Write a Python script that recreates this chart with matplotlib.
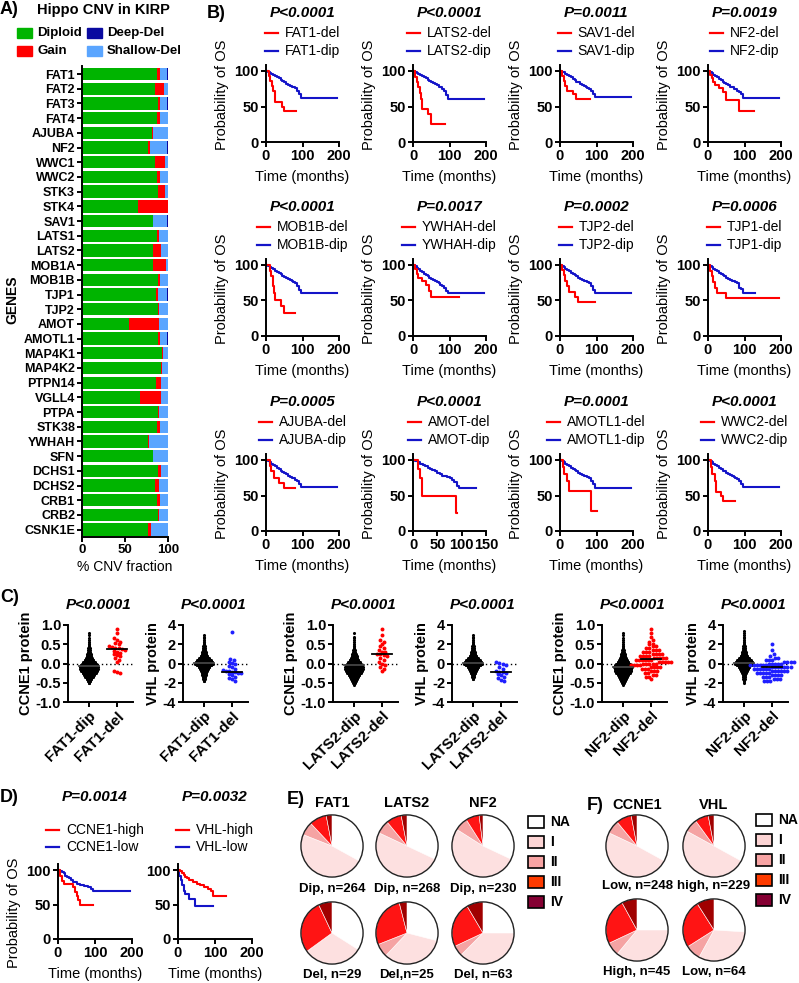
import matplotlib
matplotlib.use('Agg')
import matplotlib.pyplot as plt
from matplotlib.lines import Line2D
from matplotlib.patches import Rectangle, Circle
import numpy as np

plt.rcParams['font.family'] = ['Liberation Sans', 'DejaVu Sans']
plt.rcParams['axes.unicode_minus'] = False
plt.rcParams['axes.linewidth'] = 1.4

RED = '#ff0000'
BLUE = '#1414c8'

# ---------------- A) CNV fractions (%) ----------------
genes = ['FAT1', 'FAT2', 'FAT3', 'FAT4', 'AJUBA', 'NF2', 'WWC1', 'WWC2', 'STK3', 'STK4',
         'SAV1', 'LATS1', 'LATS2', 'MOB1A', 'MOB1B', 'TJP1', 'TJP2', 'AMOT', 'AMOTL1',
         'MAP4K1', 'MAP4K2', 'PTPN14', 'VGLL4', 'PTPA', 'STK38', 'YWHAH', 'SFN', 'DCHS1',
         'DCHS2', 'CRB1', 'CRB2', 'CSNK1E']
diploid = [87, 85, 88.5, 87, 81, 77, 85, 87.5, 88.5, 65.5, 82, 87.5, 82, 82.5, 88.5, 86.5,
           88.5, 55, 88.5, 92.5, 91.5, 86.5, 67, 88, 87, 77, 82, 88, 85, 87, 88, 77]
gain = [3.5, 10, 2.5, 3.5, 1, 1.5, 12, 3, 7.5, 34.5, 0.5, 2, 9.5, 15.5, 2.5, 2,
        1, 34.5, 2.5, 1.5, 2, 5, 25, 1, 4, 1, 0, 4, 4, 4, 1, 3]
shallow_del = [8.5, 5, 7.5, 9.5, 18, 20.5, 3, 9, 4, 0, 16.5, 10.5, 8.5, 1.5, 9, 10.5,
               10.5, 10.5, 8, 6, 6.5, 8.5, 8, 11, 9, 22, 18, 8, 11, 9, 11, 20]
deep_del = [1, 0, 1.5, 0, 0, 1, 0, 0.5, 0, 0, 1, 0, 0, 0.5, 0, 1,
            0, 0, 1, 0, 0, 0, 0, 0, 0, 0, 0, 0, 0, 0, 0, 0]

# ---------------- B) / D) Kaplan-Meier curves (months, % survival) ----------------
dip_t = [0, 5, 10, 15, 20, 25, 30, 35, 40, 45, 50, 55, 60, 65, 70, 75, 80, 85, 90, 95, 195]
dip_t130 = [0, 5, 10, 15, 20, 25, 30, 35, 40, 45, 50, 55, 60, 65, 70, 75, 80, 85, 90, 95, 130]

fat1_del_t = [0, 8, 12, 16, 20, 24, 45, 50, 82]
fat1_del_s = [100, 93, 86, 79, 72, 57, 50, 43, 43]
fat1_dip_s = [100, 99, 97, 96, 94, 93, 91, 90, 88, 86, 84, 82, 80, 79, 78, 77, 76, 72, 68, 62, 62]
lats2_del_t = [0, 5, 10, 13, 18, 22, 25, 40, 50, 88]
lats2_del_s = [100, 92, 85, 77, 69, 61, 47, 40, 25, 25]
lats2_dip_s = [100, 99, 97, 96, 95, 93, 92, 90, 88, 86, 85, 83, 81, 80, 78, 77, 75, 72, 66, 60, 60]
sav1_del_t = [0, 5, 10, 15, 20, 35, 45, 82]
sav1_del_s = [100, 93, 86, 79, 72, 68, 61, 61]
sav1_dip_s = [100, 99, 98, 96, 95, 93, 91, 89, 87, 85, 84, 82, 80, 79, 77, 76, 74, 72, 68, 63, 63]
nf2_del_t = [0, 5, 10, 15, 20, 30, 40, 50, 85, 125]
nf2_del_s = [100, 95, 90, 84, 80, 76, 70, 59, 44, 44]
nf2_dip_s = [100, 99, 97, 95, 93, 91, 89, 87, 85, 83, 81, 80, 78, 77, 75, 74, 72, 70, 67, 62, 62]

mob1b_del_t = [0, 12, 15, 18, 21, 24, 40, 50, 80]
mob1b_del_s = [100, 92, 85, 70, 60, 50, 42, 33, 33]
mob1b_dip_s = [100, 99, 97, 96, 94, 92, 90, 89, 87, 85, 83, 81, 80, 79, 77, 76, 75, 70, 65, 61, 61]
ywhah_del_t = [0, 5, 10, 15, 25, 35, 45, 50, 125]
ywhah_del_s = [100, 95, 87, 82, 77, 72, 63, 55, 55]
ywhah_dip_s = [100, 99, 96, 94, 92, 90, 88, 86, 84, 82, 80, 79, 78, 76, 74, 72, 70, 68, 64, 61, 61]
tjp2_del_t = [0, 6, 10, 15, 20, 25, 40, 50, 95]
tjp2_del_s = [100, 93, 86, 78, 70, 62, 55, 48, 48]
tjp2_dip_s = [100, 99, 97, 95, 93, 91, 89, 88, 86, 84, 82, 80, 79, 78, 77, 76, 75, 70, 65, 60, 60]
tjp1_del_t = [0, 5, 10, 15, 20, 25, 50, 195]
tjp1_del_s = [100, 92, 84, 76, 68, 61, 54, 54]
tjp1_dip_s = [100, 99, 97, 95, 93, 91, 89, 88, 86, 84, 82, 80, 79, 78, 77, 76, 75, 68, 66, 60, 60]

ajuba_del_t = [0, 10, 15, 22, 35, 50, 80]
ajuba_del_s = [100, 92, 85, 75, 68, 60, 60]
ajuba_dip_s = [100, 99, 97, 95, 93, 91, 89, 87, 85, 83, 81, 80, 78, 76, 75, 74, 72, 70, 66, 62, 62]
amot_del_t = [0, 10, 14, 18, 88, 90]
amot_del_s = [100, 88, 75, 50, 25, 25]
amot_dip_s = [100, 99, 97, 95, 93, 91, 89, 88, 86, 84, 82, 80, 78, 77, 76, 75, 72, 69, 64, 60, 60]
amotl1_del_t = [0, 8, 12, 18, 25, 85, 100]
amotl1_del_s = [100, 90, 80, 70, 57, 28, 28]
amotl1_dip_s = [100, 99, 97, 95, 93, 91, 89, 88, 86, 84, 82, 80, 79, 78, 77, 76, 74, 70, 66, 61, 61]
wwc2_del_t = [0, 8, 12, 18, 22, 35, 42, 75]
wwc2_del_s = [100, 90, 80, 70, 55, 50, 42, 42]
wwc2_dip_s = [100, 99, 97, 95, 93, 91, 89, 87, 85, 84, 82, 80, 79, 78, 76, 75, 73, 70, 66, 62, 62]

ccne1_high_t = [0, 5, 10, 15, 40, 45, 50, 55, 60, 95]
ccne1_high_s = [100, 92, 84, 80, 76, 68, 62, 57, 49, 49]
ccne1_low_t = [0, 5, 10, 15, 20, 25, 30, 35, 40, 50, 60, 70, 80, 90, 95, 195]
ccne1_low_s = [100, 99, 97, 95, 92, 90, 88, 85, 82, 80, 78, 77, 75, 72, 69, 69]
vhl_high_t = [0, 5, 10, 15, 20, 25, 30, 40, 50, 60, 70, 80, 90, 95, 130]
vhl_high_s = [100, 98, 96, 93, 90, 88, 86, 83, 80, 78, 75, 73, 70, 62, 62]
vhl_low_t = [0, 4, 8, 12, 16, 20, 30, 45, 95]
vhl_low_s = [100, 92, 85, 78, 70, 65, 58, 48, 48]

km_genes = ['FAT1', 'LATS2', 'SAV1', 'NF2', 'MOB1B', 'YWHAH', 'TJP2', 'TJP1',
            'AJUBA', 'AMOT', 'AMOTL1', 'WWC2']
km_pvals = ['P<0.0001', 'P<0.0001', 'P=0.0011', 'P=0.0019', 'P<0.0001', 'P=0.0017',
            'P=0.0002', 'P=0.0006', 'P=0.0005', 'P<0.0001', 'P=0.0001', 'P<0.0001']

# ---------------- C) protein levels ----------------
ccne1_bins = [-0.55, -0.5, -0.45, -0.4, -0.35, -0.3, -0.25, -0.2, -0.15, -0.1, -0.05, 0.0, 0.05, 0.1,
              0.15, 0.2, 0.25, 0.3, 0.35, 0.4, 0.45, 0.5, 0.55, 0.6, 0.65, 0.7, 0.75, 0.8]
vhl_bins = [-2.0, -1.8, -1.6, -1.4, -1.2, -1.0, -0.8, -0.6, -0.4, -0.2, 0.0, 0.2, 0.4, 0.6,
            0.8, 1.0, 1.2, 1.4, 1.6, 1.8, 2.0, 2.2, 2.4, 2.6, 2.8, 3.0, 3.2, 3.4]
fat1_dip_ccne1_n = [0, 2, 5, 8, 12, 16, 20, 23, 26, 27, 25, 22, 18, 14, 10, 8, 6, 4, 3, 3, 2, 2, 1, 1, 1, 0, 1, 1]
lats2_dip_ccne1_n = [1, 3, 6, 9, 12, 16, 20, 23, 25, 26, 24, 21, 17, 13, 10, 8, 6, 4, 3, 2, 2, 1, 1, 1, 1, 1, 0, 1]
nf2_dip_ccne1_n = [1, 3, 5, 8, 11, 14, 18, 21, 23, 24, 22, 19, 15, 12, 9, 7, 5, 4, 3, 2, 2, 1, 1, 1, 1, 0, 1, 1]
nf2_del_ccne1_bins = [-0.4, -0.35, -0.3, -0.25, -0.2, -0.15, -0.1, -0.05, 0.0, 0.05, 0.1, 0.15,
                      0.2, 0.25, 0.3, 0.35, 0.4, 0.45, 0.5, 0.55, 0.6, 0.7, 0.8, 0.9]
nf2_del_ccne1_n = [1, 2, 2, 2, 3, 3, 4, 4, 5, 5, 6, 5, 4, 4, 3, 3, 2, 2, 2, 1, 1, 1, 1, 1]
fat1_dip_vhl_n = [0, 2, 3, 5, 7, 9, 12, 16, 22, 30, 36, 34, 28, 20, 14, 10, 7, 5, 4, 3, 2, 2, 1, 1, 1, 1, 0, 0]
lats2_dip_vhl_n = [0, 0, 2, 4, 6, 9, 12, 16, 22, 30, 36, 34, 28, 20, 14, 10, 7, 5, 4, 3, 2, 2, 1, 1, 1, 1, 0, 0]
nf2_dip_vhl_n = [1, 2, 3, 4, 6, 8, 11, 15, 20, 27, 33, 31, 25, 18, 13, 9, 7, 5, 4, 3, 2, 2, 1, 1, 1, 1, 1, 1]
nf2_del_vhl_bins = [-1.8, -1.6, -1.4, -1.2, -1.0, -0.8, -0.6, -0.4, -0.2, 0.0, 0.2, 0.4, 0.6, 0.8, 1.0, 1.4, 2.0]
nf2_del_vhl_n = [3, 3, 3, 4, 5, 6, 6, 7, 6, 5, 4, 3, 2, 1, 1, 1, 1]
fat1_del_ccne1 = [0.9, 0.8, 0.65, 0.62, 0.55, 0.52, 0.5, 0.45, 0.44, 0.4, 0.4, 0.38, 0.36,
                  0.33, 0.31, 0.28, 0.25, 0.23, 0.2, 0.15, 0.1, 0.05, -0.2, -0.22, -0.25]
fat1_del_vhl = [3.3, 0.5, 0.4, 0.2, 0.1, -0.1, -0.3, -0.4, -0.6, -0.7, -0.8, -0.8, -0.9,
                -0.9, -1.0, -1.0, -1.1, -1.2, -1.4, -1.5, -1.6, -1.8]
lats2_del_ccne1 = [0.9, 0.75, 0.6, 0.55, 0.5, 0.45, 0.4, 0.35, 0.3, 0.3, 0.25, 0.25, 0.22,
                   0.2, 0.15, 0.1, 0.05, 0.0, -0.05, -0.1, -0.15, -0.2]
lats2_del_vhl = [0.2, 0.1, 0.0, -0.2, -0.4, -0.6, -0.8, -0.9, -0.9, -1.0, -1.1, -1.2, -1.4,
                 -1.5, -1.7, -1.8]
medians = [(-0.07, 0.37), (0.1, -0.85), (-0.05, 0.25), (0.1, -0.9), (-0.08, 0.12), (0.1, -0.4)]

# ---------------- E/F) stage distribution (%) : NA, I, II, III, IV ----------------
stages = ['NA', 'I', 'II', 'III', 'IV']
pie_fat1_dip = [33, 48, 7, 9, 3]
pie_fat1_del = [34, 31, 0, 28, 7]
pie_lats2_dip = [32, 50, 7, 8, 3]
pie_lats2_del = [29, 33, 7, 27, 4]
pie_nf2_dip = [32, 52, 7, 7, 2]
pie_nf2_del = [25, 37.5, 5.5, 23.5, 8.5]
pie_ccne1_low = [33, 49, 7, 8, 3]
pie_ccne1_high = [25, 36, 7, 24, 8]
pie_vhl_high = [33, 50, 7, 7, 3]
pie_vhl_low = [26, 32, 8, 25, 9]

W, H = 799, 983
fig = plt.figure(figsize=(W / 100, H / 100), dpi=100)
renderer = fig.canvas.get_renderer()


def add_ax(x, y, w, h):
    return fig.add_axes([x / W, 1 - (y + h) / H, w / W, h / H])


def ftext(x, y, s, **kw):
    kw.setdefault('va', 'center')
    return fig.text(x / W, 1 - y / H, s, **kw)


def fline(x1, x2, y, color, lw=1.6):
    fig.add_artist(Line2D([x1 / W, x2 / W], [1 - y / H] * 2, color=color, lw=lw))


def bold_ticks(ax, size):
    for lbl in ax.get_xticklabels() + ax.get_yticklabels():
        lbl.set_fontweight('bold')
        lbl.set_fontsize(size)


def style(ax):
    ax.spines['top'].set_visible(False)
    ax.spines['right'].set_visible(False)
    ax.tick_params(width=1.4, length=3.5, pad=1.5)


# ---- panel A ----
ftext(0, 10, 'A)', fontsize=13, fontweight='bold')
ftext(37, 10, 'Hippo CNV in KIRP', fontsize=10.5, fontweight='bold')
legA = [(17, 33, 'Diploid', '#00b400'), (87, 33, 'Deep-Del', '#0a0aa0'),
        (17, 51, 'Gain', '#ff0000'), (87, 51, 'Shallow-Del', '#5aa5ff')]
for x, y, lab, c in legA:
    fig.add_artist(Rectangle((x / W, 1 - (y + 5) / H), 15 / W, 10 / H, color=c))
    ftext(x + 20, y, lab, fontsize=9.5, fontweight='bold')

axA = add_ax(82, 66, 86, 471)
yy = np.arange(len(genes))
left = np.zeros(len(genes))
for vals, c in [(diploid, '#00b400'), (gain, '#ff0000'), (shallow_del, '#5aa5ff'),
                (deep_del, '#0a0aa0')]:
    axA.barh(yy, vals, left=left, height=0.84, color=c, lw=0)
    left = left + np.array(vals)
axA.set_ylim(len(genes) - 0.5, -0.55)
axA.set_xlim(0, 100)
axA.set_yticks(yy)
axA.set_yticklabels(genes)
axA.set_xticks([0, 50, 100])
style(axA)
bold_ticks(axA, 9.5)
for lbl in axA.get_yticklabels():
    lbl.set_fontsize(9)
axA.set_xlabel('% CNV fraction', fontsize=10, labelpad=3)
ftext(12, 300, 'GENES', fontsize=10, fontweight='bold', rotation=90, ha='center')


# ---- KM helper ----
def km(x0, ybot, del_c, dip_c, names, pval, xmax=200, xticks=(0, 100, 200),
       p_dy=129, leg_dy=(109, 91), ylab=True, ylab_dy=47, w=73, ppu=0.71):
    h = 108 * ppu
    ax = add_ax(x0, ybot - h, w, h)
    ax.step(dip_c[0], dip_c[1], where='post', color=BLUE, lw=1.5)
    ax.step(del_c[0], del_c[1], where='post', color=RED, lw=1.5)
    ax.set_xlim(0, xmax)
    ax.set_ylim(0, 108)
    ax.set_xticks(xticks)
    ax.set_yticks([0, 50, 100])
    style(ax)
    bold_ticks(ax, 10.5)
    ftext(x0 + w / 2, ybot + 35, 'Time (months)', fontsize=10.5, ha='center')
    if ylab:
        ftext(x0 - 44, ybot - ylab_dy, 'Probability of OS', fontsize=10.5,
              rotation=90, ha='center')
    ftext(x0 + w / 2, ybot - p_dy, pval, fontsize=11, fontweight='bold',
          style='italic', ha='center')
    ts = [ftext(0, ybot - d, n, fontsize=10, ha='left') for n, d in zip(names, leg_dy)]
    tw = max(t.get_window_extent(renderer).width for t in ts)
    start = x0 + w / 2 - (20 + tw) / 2
    for t, d, c in zip(ts, leg_dy, [RED, BLUE]):
        t.set_x((start + 20) / W)
        fline(start, start + 13, ybot - d, c)
    return ax


# ---- panel B ----
ftext(207, 13, 'B)', fontsize=13, fontweight='bold')
km_curves = [
    ((fat1_del_t, fat1_del_s), (dip_t, fat1_dip_s)),
    ((lats2_del_t, lats2_del_s), (dip_t, lats2_dip_s)),
    ((sav1_del_t, sav1_del_s), (dip_t, sav1_dip_s)),
    ((nf2_del_t, nf2_del_s), (dip_t, nf2_dip_s)),
    ((mob1b_del_t, mob1b_del_s), (dip_t, mob1b_dip_s)),
    ((ywhah_del_t, ywhah_del_s), (dip_t, ywhah_dip_s)),
    ((tjp2_del_t, tjp2_del_s), (dip_t, tjp2_dip_s)),
    ((tjp1_del_t, tjp1_del_s), (dip_t130, tjp1_dip_s)),
    ((ajuba_del_t, ajuba_del_s), (dip_t, ajuba_dip_s)),
    ((amot_del_t, amot_del_s), (dip_t130, amot_dip_s)),
    ((amotl1_del_t, amotl1_del_s), (dip_t, amotl1_dip_s)),
    ((wwc2_del_t, wwc2_del_s), (dip_t, wwc2_dip_s)),
]
col_x = [266, 413, 560, 708]
row_y = [142, 336, 531]
for i, g in enumerate(km_genes):
    r, c = divmod(i, 4)
    kw = {}
    if g == 'AMOT':
        kw = dict(xmax=150, xticks=(0, 50, 100, 150))
    km(col_x[c], row_y[r], km_curves[i][0], km_curves[i][1],
       [g + '-del', g + '-dip'], km_pvals[i], **kw)


# ---- panel C ----
def swarm(ax, xc, ys, binw, color, step, size):
    ys = np.asarray(ys, float)
    keys = np.round(ys / binw).astype(int)
    xs = np.empty_like(ys)
    for k in np.unique(keys):
        idx = np.where(keys == k)[0]
        n = len(idx)
        xs[idx] = xc + (np.arange(n) - (n - 1) / 2) * step
    ax.scatter(xs, ys, s=size, color=color, lw=0, zorder=3, clip_on=False)


ftext(0, 597, 'C)', fontsize=13, fontweight='bold')
c_lefts = [68, 183, 333, 452, 602, 723]
c_genes = ['FAT1', 'FAT1', 'LATS2', 'LATS2', 'NF2', 'NF2']
c_prot = ['CCNE1', 'VHL', 'CCNE1', 'VHL', 'CCNE1', 'VHL']
c_dip = [fat1_dip_ccne1_n, fat1_dip_vhl_n, lats2_dip_ccne1_n, lats2_dip_vhl_n,
         nf2_dip_ccne1_n, nf2_dip_vhl_n]
c_del = [fat1_del_ccne1, fat1_del_vhl, lats2_del_ccne1, lats2_del_vhl,
         np.repeat(nf2_del_ccne1_bins, nf2_del_ccne1_n), np.repeat(nf2_del_vhl_bins, nf2_del_vhl_n)]
for i in range(6):
    ax = add_ax(c_lefts[i], 625, 65, 77)
    is_c = c_prot[i] == 'CCNE1'
    bins = ccne1_bins if is_c else vhl_bins
    bw = 0.05 if is_c else 0.2
    dvals = np.repeat(bins, c_dip[i])
    swarm(ax, 0, dvals, bw, 'black', 0.66 / max(c_dip[i]), 5)
    swarm(ax, 1, c_del[i], 2 * bw, RED if is_c else '#1f1fff', 0.11, 8)
    ax.axhline(0, color='black', ls=(0, (1, 2)), lw=1, zorder=1)
    m_dip, m_del = medians[i]
    ax.plot([-0.35, 0.35], [m_dip] * 2, color='#444444', lw=1.3, zorder=4)
    ax.plot([0.65, 1.35], [m_del] * 2, color='black', lw=1.3, zorder=4)
    ax.set_xlim(-0.75, 1.57)
    if is_c:
        ax.set_ylim(-1, 1)
        ax.set_yticks([-1, -0.5, 0, 0.5, 1])
        ax.set_yticklabels(['-1.0', '-0.5', '0.0', '0.5', '1.0'])
    else:
        ax.set_ylim(-4, 4)
        ax.set_yticks([-4, -2, 0, 2, 4])
    ax.set_xticks([0, 1])
    ax.set_xticklabels([c_genes[i] + '-dip', c_genes[i] + '-del'])
    style(ax)
    bold_ticks(ax, 10.5)
    for lbl in ax.get_xticklabels():
        lbl.set_rotation(45)
        lbl.set_ha('right')
        lbl.set_rotation_mode('anchor')
        lbl.set_fontsize(11)
    ax.set_ylabel(c_prot[i] + ' protein', fontsize=10.5, fontweight='bold', labelpad=2)
    ftext(c_lefts[i] + 31, 605, 'P<0.0001', fontsize=11, fontweight='bold',
          style='italic', ha='center')

# ---- panel D ----
ftext(0, 797, 'D)', fontsize=13, fontweight='bold')
km(58, 939, (ccne1_high_t, ccne1_high_s), (ccne1_low_t, ccne1_low_s),
   ['CCNE1-high', 'CCNE1-low'], 'P=0.0014', p_dy=142, leg_dy=(109, 92),
   ylab_dy=26, w=74, ppu=0.69)
km(178, 939, (vhl_high_t, vhl_high_s), (vhl_low_t, vhl_low_s),
   ['VHL-high', 'VHL-low'], 'P=0.0032', p_dy=142, leg_dy=(109, 92),
   ylab=False, w=74, ppu=0.69)

# ---- panels E, F ----
pie_cols = ['#ffffff', '#fde0e0', '#f5a3a3', '#ff1414', '#a00000']
leg_cols = ['#ffffff', '#fcd4d4', '#f8a4a4', '#ff3b00', '#850033']


def pie_at(cx, cy, r, fracs, label, ly):
    ax = add_ax(cx - r, cy - r, 2 * r, 2 * r)
    ax.pie(fracs, colors=pie_cols, startangle=90, counterclock=False,
           wedgeprops=dict(edgecolor='white', linewidth=0.4))
    ax.add_patch(Circle((0, 0), 1, fill=False, ec='#222222', lw=1))
    ax.set_xlim(-1.03, 1.03)
    ax.set_ylim(-1.03, 1.03)
    ax.set_aspect('equal')
    ax.axis('off')
    ftext(cx, ly, label, fontsize=9.5, fontweight='bold', ha='center')


def stage_legend(x, y0):
    for k, (s, c) in enumerate(zip(stages, leg_cols)):
        y = y0 + 20 * k
        fig.add_artist(Rectangle((x / W, 1 - (y + 6) / H), 16 / W, 12 / H,
                                 fc=c, ec='black', lw=1.2))
        ftext(x + 22, y, s, fontsize=10, fontweight='bold')


ftext(287, 800, 'E)', fontsize=13, fontweight='bold')
for cx, g, top, bot, lt, lb in [(332, 'FAT1', pie_fat1_dip, pie_fat1_del, 'Dip, n=264', 'Del, n=29'),
                                (407, 'LATS2', pie_lats2_dip, pie_lats2_del, 'Dip, n=268', 'Del,n=25'),
                                (483, 'NF2', pie_nf2_dip, pie_nf2_del, 'Dip, n=230', 'Del, n=63')]:
    ftext(cx, 803, g, fontsize=10.5, fontweight='bold', ha='center')
    pie_at(cx, 846, 32, top, lt, 889)
    pie_at(cx, 933, 32, bot, lb, 975)
stage_legend(528, 822)

ftext(587, 805, 'F)', fontsize=13, fontweight='bold')
for cx, g, top, bot, lt, lb in [(637, 'CCNE1', pie_ccne1_low, pie_ccne1_high, 'Low, n=248', 'High, n=45'),
                                (714, 'VHL', pie_vhl_high, pie_vhl_low, 'high, n=229', 'Low, n=64')]:
    ftext(cx, 805, g, fontsize=10.5, fontweight='bold', ha='center')
    pie_at(cx, 846, 32, top, lt, 886)
    pie_at(cx, 930, 32, bot, lb, 972)
stage_legend(756, 820)

fig.savefig('out.png', dpi=100)
